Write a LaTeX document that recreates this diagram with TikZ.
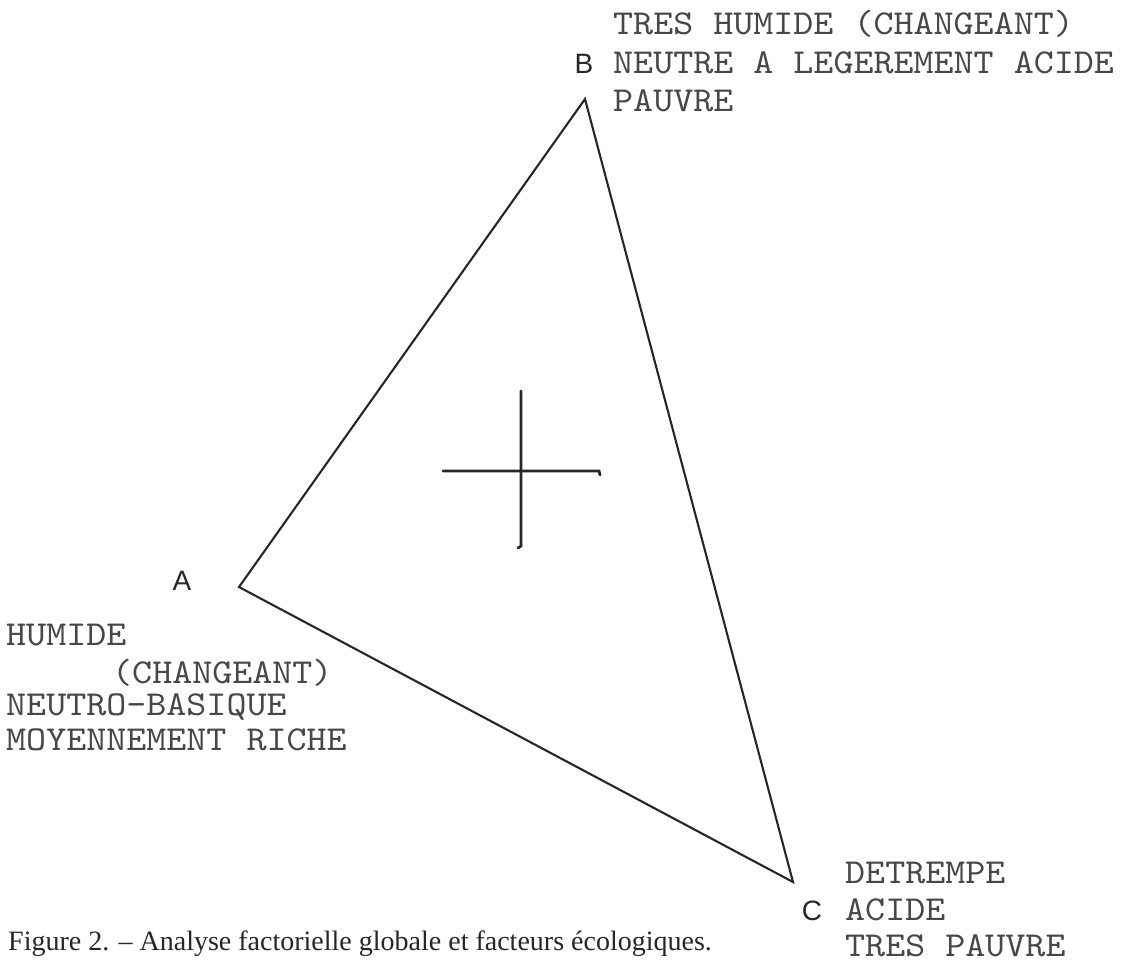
\documentclass[tikz,border=0pt]{standalone}
\usepackage{fontspec}
\setmainfont{Liberation Serif}
\newfontfamily\labsans{Liberation Sans}
\newfontfamily\typew{lmmono10-regular}[Extension=.otf,FakeStretch=1.09]
\begin{document}
\begin{tikzpicture}[x=1pt,y=-1pt,
  typed/.style={anchor=base west,inner sep=0pt,text=black!72,font=\typew\fontsize{35}{35}\selectfont},
  vlabel/.style={anchor=base,inner sep=0pt,text=black!85,font=\labsans\fontsize{28}{28}\selectfont},
  edge/.style={draw=black!85,line width=2.1pt,line join=miter},
  axis/.style={draw=black!85,line width=2.8pt,line cap=round}]
\useasboundingbox (0,0) rectangle (1126,962);
% vertices
\coordinate (A) at (239,587);
\coordinate (B) at (585,99);
\coordinate (C) at (793,882);
\draw[edge] (A) -- (B) -- (C) -- cycle;
% cross
\coordinate (ht) at (443,471);
\coordinate (hr) at (599,471);
\coordinate (hh) at (600,475);
\coordinate (vt) at (521,391);
\coordinate (vb) at (521,546);
\coordinate (vh) at (518,548);
\draw[axis] (ht) -- (hr) -- (hh);
\draw[axis] (vt) -- (vb) -- (vh);
% vertex labels
\node[vlabel] (la) at (182,590) {A};
\node[vlabel] (lb) at (584,73) {B};
\node[vlabel] (lc) at (812,920) {C};
% B texts
\node[typed] (b1) at (613,34) {TRES HUMIDE (CHANGEANT)};
\node[typed] (b2) at (613,73) {NEUTRE A LEGEREMENT ACIDE};
\node[typed] (b3) at (613,111) {PAUVRE};
% A texts
\node[typed] (a1) at (6,645) {HUMIDE};
\node[typed] (a2) at (112,683) {(CHANGEANT)};
\node[typed] (a3) at (6,715) {NEUTRO-BASIQUE};
\node[typed] (a4) at (6,750) {MOYENNEMENT RICHE};
% C texts
\node[typed] (c1) at (845,883) {DETREMPE};
\node[typed] (c2) at (845,920) {ACIDE};
\node[typed] (c3) at (845,956) {TRES PAUVRE};
% caption
\node[anchor=base west,inner sep=0pt,font=\fontsize{28}{28}\selectfont,text=black!85] (cap) at (8,950) {Figure 2. -- Analyse factorielle globale et facteurs écologiques.};
\end{tikzpicture}
\end{document}
